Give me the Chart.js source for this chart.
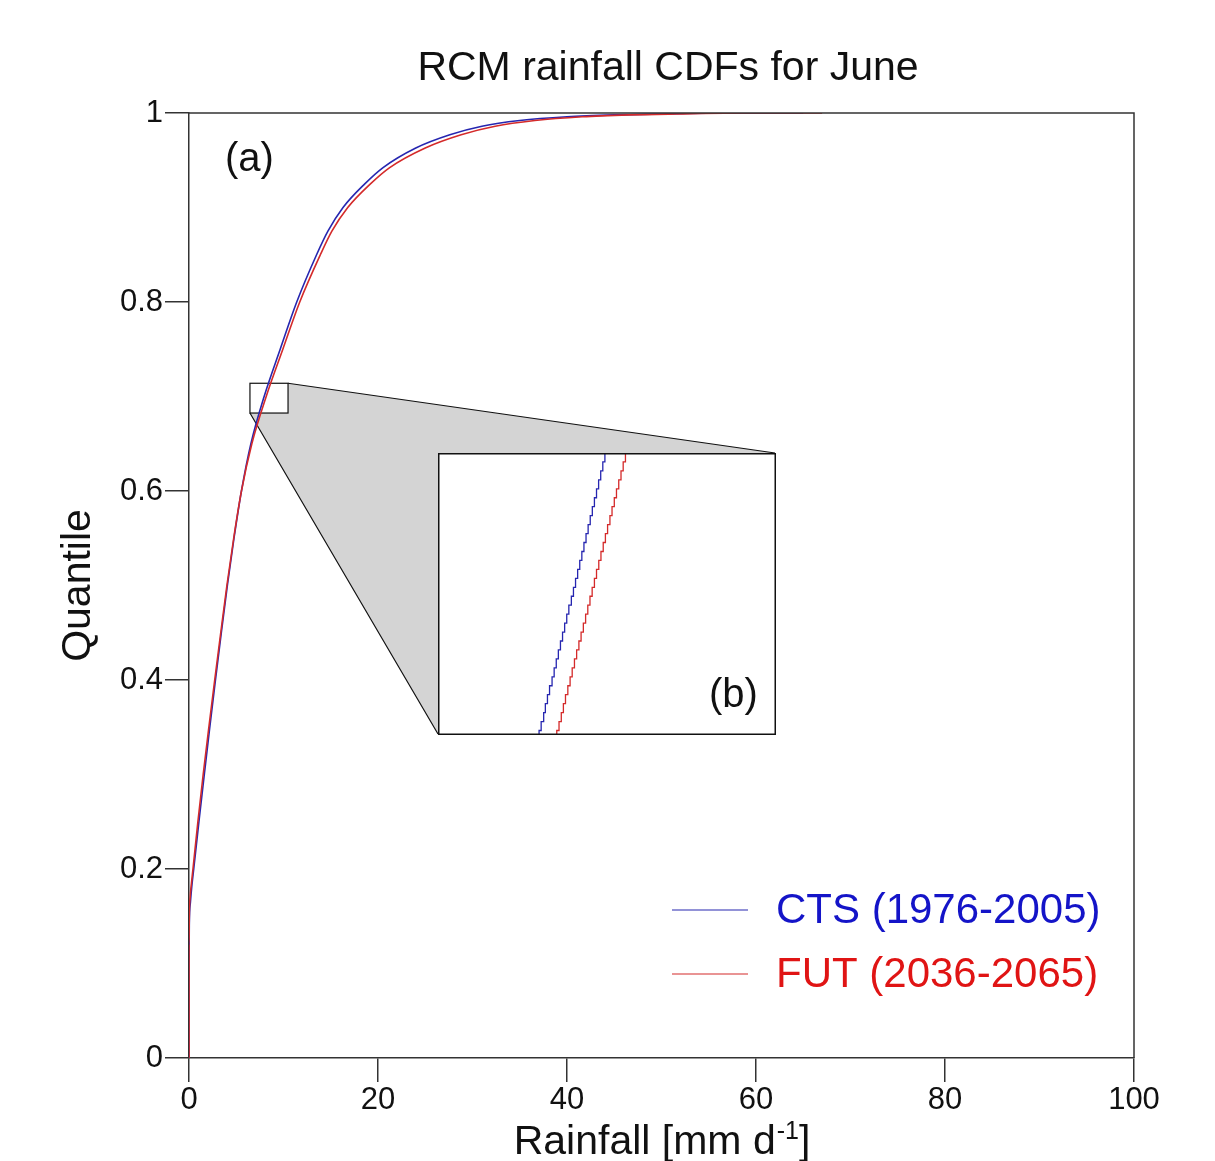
<!DOCTYPE html>
<html>
<head>
<meta charset="utf-8">
<script src="https://cdn.jsdelivr.net/npm/chart.js@4.4.0/dist/chart.umd.min.js"></script>
<style>
  body { margin: 0; background: #fff; }
  #wrap { position: relative; width: 1215px; height: 1161px; }
  #ch { position: absolute; left: 0; top: 0; }
  #zoom { position: absolute; left: 438px; top: 453px; }
</style>
</head>
<body>
<div id="wrap">
  <canvas id="ch" width="1215" height="1161"></canvas>
  <canvas id="zoom" width="338" height="282"></canvas>
</div>
<script>
// main CDFs, rainfall in mm/d vs quantile
const ctsRain  = [0, 0, 0.03, 0.15, 0.3, 0.5, 1.05, 1.62, 2.2, 2.8, 3.42, 4.06, 4.76, 5.55, 6.55, 7.95, 9.65, 11.4, 13.5, 14.7, 16.3, 18.6, 20.5, 24.0, 27.6, 31.0, 35.0, 40.0, 45.0, 50.0, 57.0, 65.0];
const ctsQuant = [0, 0.10, 0.14, 0.165, 0.182, 0.20, 0.25, 0.30, 0.35, 0.40, 0.45, 0.50, 0.55, 0.60, 0.65, 0.70, 0.75, 0.80, 0.85, 0.875, 0.90, 0.925, 0.942, 0.963, 0.977, 0.986, 0.992, 0.996, 0.998, 0.999, 1.0, 1.0];
const futRain  = [0, 0, 0.03, 0.12, 0.26, 0.42, 0.94, 1.5, 2.1, 2.72, 3.36, 4.01, 4.73, 5.55, 6.65, 8.17, 9.93, 11.72, 13.9, 15.12, 16.8, 19.2, 21.2, 25.0, 28.8, 32.4, 36.6, 41.6, 46.6, 51.6, 59.0, 67.0];
const futQuant = [0, 0.12, 0.15, 0.17, 0.185, 0.20, 0.25, 0.30, 0.35, 0.40, 0.45, 0.50, 0.55, 0.60, 0.65, 0.70, 0.75, 0.80, 0.85, 0.875, 0.90, 0.925, 0.942, 0.963, 0.977, 0.986, 0.992, 0.996, 0.998, 0.999, 1.0, 1.0];

// zoom window (b)
const zoomRain  = [6.45, 10.48];
const zoomQuant = [0.6825, 0.714];
const zoomLevels  = [0.682, 0.683, 0.684, 0.685, 0.686, 0.687, 0.688, 0.689, 0.690, 0.691, 0.692, 0.693, 0.694, 0.695, 0.696, 0.697, 0.698, 0.699, 0.700, 0.701, 0.702, 0.703, 0.704, 0.705, 0.706, 0.707, 0.708, 0.709, 0.710, 0.711, 0.712, 0.713, 0.714, 0.715];
const zoomCtsRain = [7.63, 7.655, 7.68, 7.71, 7.73, 7.755, 7.78, 7.81, 7.835, 7.86, 7.885, 7.91, 7.935, 7.96, 7.985, 8.01, 8.04, 8.065, 8.09, 8.115, 8.14, 8.165, 8.19, 8.215, 8.24, 8.265, 8.29, 8.315, 8.34, 8.365, 8.39, 8.415, 8.44, 8.465];
const zoomFutRain = [7.84, 7.866, 7.893, 7.92, 7.945, 7.97, 7.998, 8.025, 8.05, 8.077, 8.103, 8.13, 8.156, 8.183, 8.21, 8.236, 8.262, 8.288, 8.315, 8.34, 8.367, 8.393, 8.42, 8.446, 8.472, 8.5, 8.525, 8.552, 8.578, 8.605, 8.632, 8.658, 8.685, 8.71];

const xTicks = [0, 20, 40, 60, 80, 100];
const yTicks = [0, 0.2, 0.4, 0.6, 0.8, 1];
const seriesNames = ['CTS (1976-2005)', 'FUT (2036-2065)'];

const FONT = "'Liberation Sans', Arial, sans-serif";
const INK = '#111';
const AXIS = '#333';
const BLUE = '#2626b0';
const RED = '#d42a2a';
const inset = { left: 438, top: 453, width: 337, height: 281 };

let pts = (xs, ys) => xs.map((x, i) => ({ x: x, y: ys[i] }));

let decor = {
    id: 'decor',
    beforeDatasetsDraw(chart) {
        const { ctx, scales: { x, y } } = chart;
        let x0 = x.getPixelForValue(zoomRain[0]), x1 = x.getPixelForValue(zoomRain[1]);
        let y0 = y.getPixelForValue(zoomQuant[0]), y1 = y.getPixelForValue(zoomQuant[1]);
        let tr = [inset.left + inset.width, inset.top];
        let bl = [inset.left, inset.top + inset.height];
        ctx.save();
        ctx.beginPath();
        ctx.moveTo(x1, y1);
        ctx.lineTo(tr[0], tr[1]);
        ctx.lineTo(bl[0], bl[1]);
        ctx.lineTo(x0, y0);
        ctx.lineTo(x1, y0);
        ctx.closePath();
        ctx.fillStyle = '#d4d4d4';
        ctx.fill();
        ctx.strokeStyle = INK;
        ctx.lineWidth = 1.2;
        ctx.beginPath();
        ctx.moveTo(x1, y1); ctx.lineTo(tr[0], tr[1]);
        ctx.moveTo(x0, y0); ctx.lineTo(bl[0], bl[1]);
        ctx.stroke();
        ctx.strokeRect(x0, y1, x1 - x0, y0 - y1);
        ctx.restore();
    },
    afterDraw(chart) {
        const { ctx, chartArea: a } = chart;
        ctx.save();
        // frame
        ctx.strokeStyle = AXIS;
        ctx.lineWidth = 1.5;
        ctx.beginPath();
        ctx.moveTo(a.left, a.top); ctx.lineTo(a.right, a.top); ctx.lineTo(a.right, a.bottom);
        ctx.stroke();

        ctx.fillStyle = INK;
        ctx.textBaseline = 'alphabetic';
        // title
        ctx.font = `41px ${FONT}`;
        ctx.textAlign = 'center';
        ctx.fillText('RCM rainfall CDFs for June', 668, 80);

        // x axis title with superscript
        ctx.textAlign = 'left';
        let big = `41px ${FONT}`, small = `25px ${FONT}`;
        let p1 = 'Rainfall [mm d', sup = '-1', p2 = ']';
        ctx.font = big;
        let w1 = ctx.measureText(p1).width, w2 = ctx.measureText(p2).width;
        ctx.font = small;
        let ws = ctx.measureText(sup).width;
        let sx = (a.left + a.right) / 2 - (w1 + ws + w2) / 2;
        ctx.font = big;
        ctx.fillText(p1, sx, 1154);
        ctx.fillText(p2, sx + w1 + ws + 1, 1154);
        ctx.font = small;
        ctx.fillText(sup, sx + w1 + 1, 1139);

        // panel label
        ctx.font = `40px ${FONT}`;
        ctx.textBaseline = 'middle';
        ctx.fillText('(a)', 225, 160);

        // legend
        let colors = [BLUE, RED];
        let rows = [910, 974];
        seriesNames.forEach((name, i) => {
            ctx.strokeStyle = colors[i];
            ctx.lineWidth = 1.2;
            ctx.beginPath();
            ctx.moveTo(672, rows[i]); ctx.lineTo(748, rows[i]);
            ctx.stroke();
            ctx.fillStyle = i === 0 ? '#1414c8' : '#e01414';
            ctx.font = `42px ${FONT}`;
            ctx.fillText(name, 776, rows[i] + 1);
        });
        ctx.restore();
    }
};

let axisStyle = {
    border: { color: AXIS, width: 1.5 },
    grid: { drawOnChartArea: false, drawTicks: true, tickLength: 24, color: AXIS, lineWidth: 1.5 }
};

let cdf = new Chart('ch', {
    type: 'line',
    data: {
        datasets: [{
            label: seriesNames[1],
            data: pts(futRain, futQuant),
            borderColor: RED,
            borderWidth: 1.6,
            cubicInterpolationMode: 'monotone'
        }, {
            label: seriesNames[0],
            data: pts(ctsRain, ctsQuant),
            borderColor: BLUE,
            borderWidth: 1.6,
            cubicInterpolationMode: 'monotone'
        }]
    },
    options: {
        responsive: false,
        animation: false,
        layout: { padding: { top: 113, right: 81, bottom: 0, left: 0 } },
        elements: { point: { radius: 0 } },
        scales: {
            x: {
                type: 'linear', min: 0, max: 100,
                ...axisStyle,
                afterFit: s => { s.height = 103; },
                afterBuildTicks: s => { s.ticks = xTicks.map(v => ({ value: v })); },
                ticks: { color: INK, font: { family: FONT, size: 31 }, padding: 0, maxRotation: 0 }
            },
            y: {
                type: 'linear', min: 0, max: 1,
                ...axisStyle,
                afterFit: s => { s.width = 189; },
                afterBuildTicks: s => { s.ticks = yTicks.map(v => ({ value: v })); },
                ticks: { color: INK, font: { family: FONT, size: 31 }, padding: 2, callback: v => String(v) },
                title: { display: true, text: 'Quantile', color: INK, font: { family: FONT, size: 41 }, padding: { top: 54 } }
            }
        },
        plugins: { legend: { display: false }, tooltip: { enabled: false } }
    },
    plugins: [decor]
});

let zoom = new Chart('zoom', {
    type: 'line',
    data: {
        datasets: [{
            data: pts(zoomFutRain, zoomLevels),
            borderColor: RED,
            borderWidth: 1.3,
            stepped: true
        }, {
            data: pts(zoomCtsRain, zoomLevels),
            borderColor: BLUE,
            borderWidth: 1.3,
            stepped: true
        }]
    },
    options: {
        responsive: false,
        animation: false,
        layout: { padding: 0 },
        elements: { point: { radius: 0 } },
        scales: {
            x: { type: 'linear', display: false, min: zoomRain[0], max: zoomRain[1] },
            y: { type: 'linear', display: false, min: zoomQuant[0], max: zoomQuant[1] }
        },
        plugins: { legend: { display: false }, tooltip: { enabled: false } }
    },
    plugins: [{
        id: 'box',
        beforeDraw(chart) {
            const { ctx, width, height } = chart;
            ctx.save();
            ctx.fillStyle = '#fff';
            ctx.fillRect(0, 0, width, height);
            ctx.restore();
        },
        afterDraw(chart) {
            const { ctx, width, height } = chart;
            ctx.save();
            ctx.strokeStyle = INK;
            ctx.lineWidth = 1.5;
            ctx.strokeRect(0.75, 0.75, width - 1.5, height - 1.5);
            ctx.fillStyle = INK;
            ctx.font = `40px ${FONT}`;
            ctx.textBaseline = 'middle';
            ctx.fillText('(b)', 271, 243);
            ctx.restore();
        }
    }]
});
</script>
</body>
</html>
